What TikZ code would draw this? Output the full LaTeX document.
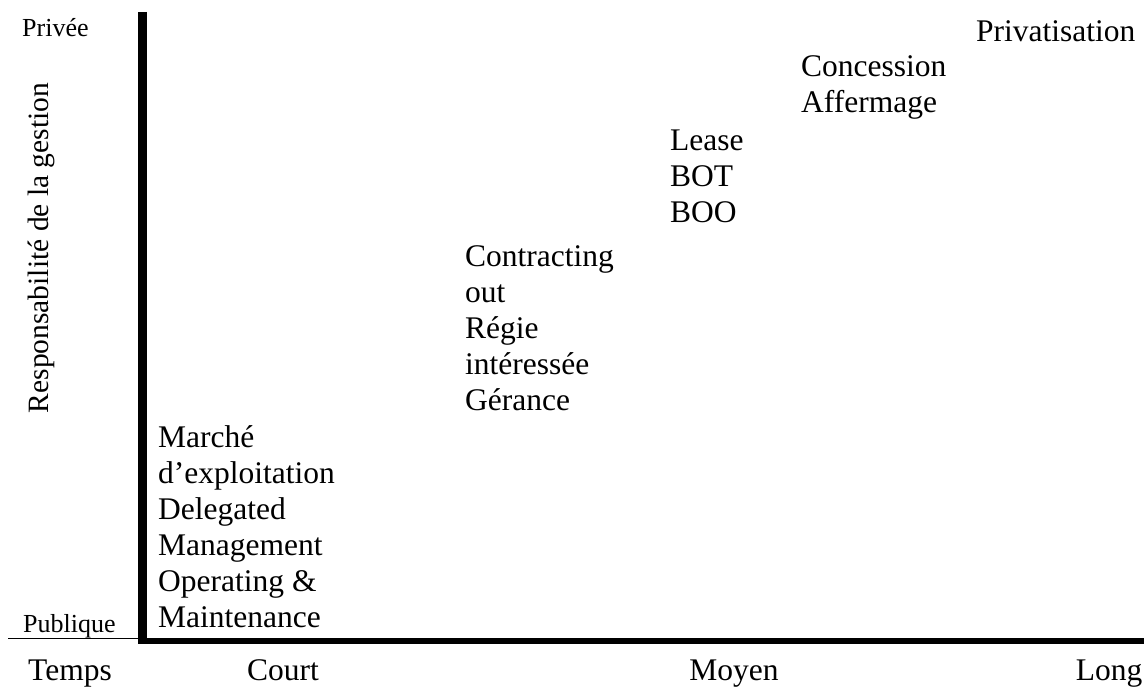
\documentclass[tikz,border=0pt]{standalone}
\usepackage{fontspec}
\setmainfont{Liberation Serif}
\begin{document}
\begin{tikzpicture}[x=1pt,y=-1pt,
  big/.style={font=\fontsize{31.5}{36}\selectfont, inner sep=0pt, align=left, anchor=base west},
  small/.style={font=\fontsize{26}{30}\selectfont, inner sep=0pt},
  axisline/.style={line width=9pt, line cap=butt},
  baseline/.style={line width=6pt, line cap=butt}]
\useasboundingbox (0,0) rectangle (1144,687);
% axes
\coordinate (vtop) at (142.5,12);
\coordinate (vbot) at (142.5,644);
\coordinate (hl) at (138,641);
\coordinate (hr) at (1144,641);
\coordinate (tl) at (8,638.5);
\coordinate (tr) at (140,638.5);
\draw[axisline] (vtop) -- (vbot);
\draw[baseline] (hl) -- (hr);
\draw[line width=1.5pt] (tl) -- (tr);
% axis labels
\node[small, anchor=base west] (privee) at (22,37) {Privée};
\node[small, anchor=base west] (publique) at (23,632) {Publique};
\node[font=\fontsize{29.5}{33}\selectfont, inner sep=0pt, rotate=90] (resp) at (41,248) {Responsabilité de la gestion};
% time labels
\node[big, anchor=base] (temps) at (70,680) {Temps};
\node[big, anchor=base] (court) at (283,680) {Court};
\node[big, anchor=base] (moyen) at (734,680) {Moyen};
\node[big, anchor=base] (long) at (1109,680) {Long};
% blocks (anchored at the baseline of their last line)
\node[big] (b1) at (158,627) {Marché\\d’exploitation\\Delegated\\Management\\Operating \&\\Maintenance};
\node[big] (b2) at (465,410) {Contracting\\out\\Régie\\intéressée\\Gérance};
\node[big] (b3) at (670,223) {Lease\\BOT\\BOO};
\node[big] (b4) at (801,113) {Concession\\Affermage};
\node[big] (b5) at (976,42) {Privatisation};
\end{tikzpicture}
\end{document}
